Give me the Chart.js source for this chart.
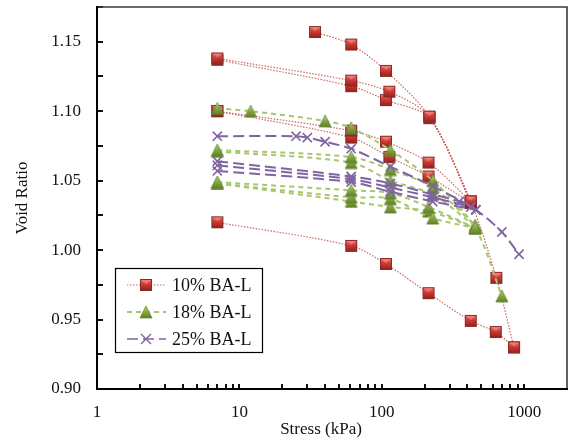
<!DOCTYPE html>
<html lang="en">
<head>
<meta charset="UTF-8">
<title>Void Ratio vs Stress</title>
<script src="https://cdn.jsdelivr.net/npm/chart.js"></script>
<style>
  html, body { margin: 0; padding: 0; background: #ffffff; }
  #wrap { width: 568px; height: 440px; }
</style>
</head>
<body>
<div id="wrap"><canvas id="voidChart" width="568" height="440"></canvas></div>
<script>
// Consolidation tests, one inner array per test (stress in kPa, void ratio)
const ba10Stress = [
    [34, 61, 107, 216, 422, 638, 849],
    [7, 61, 113, 216, 422],
    [7, 61, 107, 216, 422],
    [7, 61, 107, 213, 422],
    [7, 61, 113, 213, 422],
    [7, 61, 107, 213, 422, 632, 849]
];
const ba10Void = [
    [1.157, 1.148, 1.129, 1.096, 1.035, 0.980, 0.930],
    [1.138, 1.122, 1.114, 1.096, 1.035],
    [1.137, 1.118, 1.108, 1.095, 1.034],
    [1.100, 1.086, 1.078, 1.063, 1.035],
    [1.100, 1.081, 1.067, 1.053, 1.034],
    [1.020, 1.003, 0.990, 0.969, 0.949, 0.941, 0.930]
];

const ba18Stress = [
    [7, 12, 40, 61, 115, 228, 453, 697],
    [7, 61, 115, 228, 453],
    [7, 61, 115, 228, 453],
    [7, 61, 115, 213, 453],
    [7, 61, 115, 228, 453],
    [7, 61, 115, 213, 453]
];
const ba18Void = [
    [1.102, 1.100, 1.093, 1.088, 1.072, 1.050, 1.016, 0.967],
    [1.072, 1.067, 1.058, 1.045, 1.018],
    [1.071, 1.063, 1.050, 1.040, 1.017],
    [1.049, 1.043, 1.041, 1.031, 1.016],
    [1.048, 1.038, 1.037, 1.023, 1.016],
    [1.048, 1.035, 1.031, 1.028, 1.016]
];

const ba25Stress = [
    [7, 25, 30, 40, 61, 115, 228, 458, 697, 921],
    [7, 61, 115, 228, 350, 458],
    [7, 61, 115, 228, 422],
    [7, 61, 115, 228, 458]
];
const ba25Void = [
    [1.082, 1.082, 1.081, 1.078, 1.073, 1.060, 1.046, 1.029, 1.013, 0.997],
    [1.064, 1.053, 1.048, 1.040, 1.035, 1.029],
    [1.061, 1.051, 1.045, 1.038, 1.031],
    [1.057, 1.049, 1.042, 1.035, 1.029]
];

const seriesNames = ['10% BA-L', '18% BA-L', '25% BA-L'];
const xTickValues = [1, 10, 100, 1000];
const yTickValues = [0.90, 0.95, 1.00, 1.05, 1.10, 1.15];

const SERIF = "'Liberation Serif', 'Times New Roman', serif";
const PURPLE = '#8064a2';

// beveled marker bitmaps
function squareMarker(size) {
    const c = document.createElement('canvas');
    c.width = c.height = size + 2;
    const g = c.getContext('2d');
    const grad = g.createLinearGradient(0, 1, 0, size + 1);
    grad.addColorStop(0, '#e8706b');
    grad.addColorStop(0.45, '#cc3b35');
    grad.addColorStop(1, '#8f1f1b');
    g.fillStyle = grad;
    g.fillRect(1, 1, size, size);
    // light "v" on top of the bevel
    g.fillStyle = 'rgba(255,150,145,0.55)';
    g.beginPath();
    g.moveTo(2, 2); g.lineTo(size, 2); g.lineTo(size / 2 + 1, size / 2);
    g.closePath();
    g.fill();
    g.strokeStyle = '#8a2a26';
    g.lineWidth = 1;
    g.strokeRect(1.5, 1.5, size - 1, size - 1);
    return c;
}

function triangleMarker(size) {
    const c = document.createElement('canvas');
    c.width = c.height = size + 2;
    const g = c.getContext('2d');
    const grad = g.createLinearGradient(0, 1, 0, size + 1);
    grad.addColorStop(0, '#b8d77a');
    grad.addColorStop(0.5, '#86a843');
    grad.addColorStop(1, '#5f7f28');
    g.fillStyle = grad;
    g.beginPath();
    g.moveTo(size / 2 + 1, 1);
    g.lineTo(size + 1, size + 1);
    g.lineTo(1, size + 1);
    g.closePath();
    g.fill();
    g.strokeStyle = '#6b8a33';
    g.lineWidth = 0.8;
    g.stroke();
    return c;
}

const squareImg = squareMarker(12);
const triangleImg = triangleMarker(12);

function toPoints(xs, ys) {
    return xs.map((x, i) => ({ x: x, y: ys[i] }));
}

const datasets = [];
ba10Stress.forEach((xs, i) => datasets.push({
    label: seriesNames[0],
    data: toPoints(xs, ba10Void[i]),
    showLine: true,
    tension: 0.3,
    borderColor: 'rgba(192,80,77,0.85)',
    borderWidth: 1.2,
    borderDash: [1.5, 1.5],
    pointStyle: squareImg,
    order: 2
}));
ba18Stress.forEach((xs, i) => datasets.push({
    label: seriesNames[1],
    data: toPoints(xs, ba18Void[i]),
    showLine: true,
    tension: 0.3,
    borderColor: '#a9c66f',
    borderWidth: 2,
    borderDash: [5, 4],
    pointStyle: triangleImg,
    order: 1
}));
ba25Stress.forEach((xs, i) => datasets.push({
    label: seriesNames[2],
    data: toPoints(xs, ba25Void[i]),
    showLine: true,
    tension: 0.3,
    borderColor: PURPLE,
    borderWidth: 2,
    borderDash: [11, 5],
    pointStyle: 'crossRot',
    pointRadius: 6.5,
    pointBorderColor: PURPLE,
    pointBorderWidth: 1.6,
    order: 0
}));

// frame, inward tick marks, x title and the boxed legend
const framePlugin = {
    id: 'frame',
    afterDatasetsDraw(chart) {
        const { ctx, chartArea: a, scales } = chart;
        const xs = scales.x, ys = scales.y;
        ctx.save();

        // y ticks every 0.025
        ctx.strokeStyle = '#111';
        ctx.lineWidth = 2;
        for (let k = 0; k <= 11; k++) {
            const py = Math.round(ys.getPixelForValue(0.9 + k * 0.025));
            ctx.beginPath();
            ctx.moveTo(a.left, py);
            ctx.lineTo(a.left + 6, py);
            ctx.stroke();
        }
        // log minor + major ticks
        for (let dec = 1; dec <= 1000; dec *= 10) {
            for (let m = 1; m <= 9; m++) {
                const v = dec * m;
                if (v <= 1 || v >= 2000) continue;
                const px = Math.round(xs.getPixelForValue(v));
                ctx.beginPath();
                ctx.moveTo(px, a.bottom);
                ctx.lineTo(px, a.bottom - 5);
                ctx.stroke();
            }
        }

        // box
        ctx.strokeStyle = '#3a3a3a';
        ctx.lineWidth = 1.6;
        ctx.beginPath();
        ctx.moveTo(a.left, a.top);
        ctx.lineTo(a.right, a.top);
        ctx.lineTo(a.right, a.bottom);
        ctx.stroke();
        ctx.strokeStyle = '#000';
        ctx.lineWidth = 2;
        ctx.beginPath();
        ctx.moveTo(a.left, a.top - 1);
        ctx.lineTo(a.left, a.bottom);
        ctx.lineTo(a.right + 1, a.bottom);
        ctx.stroke();

        // x axis title
        ctx.fillStyle = '#111';
        ctx.font = '17px ' + SERIF;
        ctx.textAlign = 'center';
        ctx.textBaseline = 'middle';
        ctx.fillText('Stress (kPa)', 321, 430);

        // legend
        const lx = 115, ly = 268, lw = 147, lh = 84;
        ctx.fillStyle = '#fff';
        ctx.fillRect(lx, ly, lw, lh);
        ctx.strokeStyle = '#000';
        ctx.lineWidth = 1.2;
        ctx.strokeRect(lx + 0.5, ly + 0.5, lw, lh);

        const rows = [285, 312, 339];
        const styles = [
            { color: 'rgba(192,80,77,0.85)', width: 1.2, dash: [1.5, 1.5] },
            { color: '#a9c66f', width: 2, dash: [5, 4] },
            { color: PURPLE, width: 1.6, dash: [11, 5] }
        ];
        rows.forEach((ry, i) => {
            const s = styles[i];
            ctx.strokeStyle = s.color;
            ctx.lineWidth = s.width;
            ctx.setLineDash(s.dash);
            ctx.beginPath();
            ctx.moveTo(127, ry);
            ctx.lineTo(166, ry);
            ctx.stroke();
            ctx.setLineDash([]);
            if (i === 0) ctx.drawImage(squareImg, 146 - 7, ry - 7);
            if (i === 1) ctx.drawImage(triangleImg, 146 - 7, ry - 7);
            if (i === 2) {
                ctx.strokeStyle = PURPLE;
                ctx.lineWidth = 1.4;
                ctx.beginPath();
                ctx.moveTo(141, ry - 5); ctx.lineTo(151, ry + 5);
                ctx.moveTo(151, ry - 5); ctx.lineTo(141, ry + 5);
                ctx.stroke();
            }
            ctx.fillStyle = '#111';
            ctx.font = '18px ' + SERIF;
            ctx.textAlign = 'left';
            ctx.textBaseline = 'middle';
            ctx.fillText(seriesNames[i], 172, ry + 1);
        });
        ctx.restore();
    }
};

new Chart(document.getElementById('voidChart'), {
    type: 'scatter',
    data: { datasets: datasets },
    options: {
        responsive: false,
        animation: false,
        devicePixelRatio: 1,
        layout: { autoPadding: false, padding: { top: 7, right: 1, left: 0, bottom: 0 } },
        plugins: {
            legend: { display: false },
            tooltip: { enabled: false }
        },
        scales: {
            x: {
                type: 'logarithmic',
                min: 1,
                max: 2000,
                afterBuildTicks: scale => { scale.ticks = xTickValues.map(v => ({ value: v })); },
                afterFit: scale => {
                    scale.height = 51;
                    scale.paddingLeft = 0;
                    scale.paddingRight = 0;
                },
                grid: { display: false, drawTicks: false },
                border: { display: false },
                ticks: {
                    padding: 13,
                    maxRotation: 0,
                    autoSkip: false,
                    color: '#111',
                    font: { family: SERIF, size: 17 },
                    callback: v => String(v)
                }
            },
            y: {
                min: 0.9,
                max: 1.175,
                afterBuildTicks: scale => { scale.ticks = yTickValues.map(v => ({ value: v })); },
                afterFit: scale => {
                    scale.width = 97;
                    scale.paddingTop = 0;
                    scale.paddingBottom = 0;
                },
                grid: { display: false, drawTicks: false },
                border: { display: false },
                title: {
                    display: true,
                    text: 'Void Ratio',
                    color: '#111',
                    font: { family: SERIF, size: 17 },
                    padding: { top: 12, bottom: 0 }
                },
                ticks: {
                    padding: 16,
                    color: '#111',
                    font: { family: SERIF, size: 17 },
                    callback: v => Number(v).toFixed(2)
                }
            }
        }
    },
    plugins: [framePlugin]
});
</script>
</body>
</html>
